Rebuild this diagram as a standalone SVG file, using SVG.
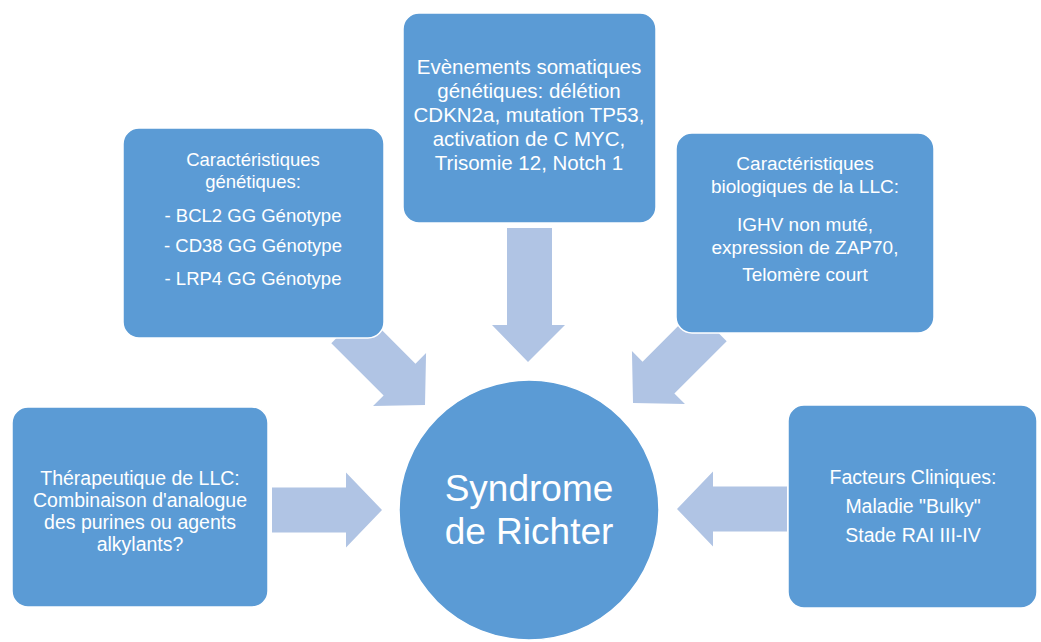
<svg xmlns="http://www.w3.org/2000/svg" width="1041" height="642" viewBox="0 0 1041 642">
  <defs>
    <style>
      .box { fill: #5b9bd5; stroke: #ffffff; stroke-width: 1.5; }
      .arrow { fill: #b0c4e4; }
      .t { fill: #ffffff; font-family: "Liberation Sans", Arial, sans-serif; font-size: 18.5px; text-anchor: middle; }
      .top { font-size: 20.5px; }
      .bio { font-size: 19px; }
      .low { font-size: 19.5px; }
      .big { font-size: 37px; }
    </style>
    <polygon id="arr" points="-110,-22.5 -36,-22.5 -36,-37.5 0,0 -36,37.5 -36,22.5 -110,22.5"/>
  </defs>
  <rect width="1041" height="642" fill="#ffffff"/>
  <g id="connectors">
    <use href="#arr" class="arrow" transform="translate(425,405) rotate(45)"/>
    <polygon class="arrow" points="507,228 552,228 552,325 565,325 528,362 492,325 507,325"/>
    <use href="#arr" class="arrow" transform="translate(633,403) rotate(135)"/>
    <use href="#arr" class="arrow" transform="translate(382,510)"/>
    <use href="#arr" class="arrow" transform="translate(677,509) rotate(180)"/>
  </g>
  <g id="node-genetiques">
    <rect class="box" x="123" y="128" width="261" height="210" rx="16"/>
    <text class="t" x="253" y="166">Caractéristiques</text>
    <text class="t" x="253" y="188">génétiques:</text>
    <text class="t" x="253" y="222">- BCL2 GG Génotype</text>
    <text class="t" x="253" y="252">- CD38 GG Génotype</text>
    <text class="t" x="253" y="285">- LRP4 GG Génotype</text>
  </g>
  <g id="node-somatiques">
    <rect class="box" x="403" y="13" width="253" height="210" rx="16"/>
    <text class="t top" x="529" y="74">Evènements somatiques</text>
    <text class="t top" x="529" y="98">génétiques: délétion</text>
    <text class="t top" x="529" y="122">CDKN2a, mutation TP53,</text>
    <text class="t top" x="529" y="146">activation de C MYC,</text>
    <text class="t top" x="529" y="170">Trisomie 12, Notch 1</text>
  </g>
  <g id="node-biologiques">
    <rect class="box" x="676" y="133" width="258" height="200" rx="16"/>
    <text class="t bio" x="805" y="170">Caractéristiques</text>
    <text class="t bio" x="805" y="193">biologiques de la LLC:</text>
    <text class="t bio" x="805" y="231">IGHV non muté,</text>
    <text class="t bio" x="805" y="254">expression de ZAP70,</text>
    <text class="t bio" x="805" y="281">Telomère court</text>
  </g>
  <g id="node-therapeutique">
    <rect class="box" x="12" y="407" width="256" height="200" rx="16"/>
    <text class="t low" x="140" y="485">Thérapeutique de LLC:</text>
    <text class="t low" x="140" y="507">Combinaison d'analogue</text>
    <text class="t low" x="140" y="529">des purines ou agents</text>
    <text class="t low" x="140" y="551">alkylants?</text>
  </g>
  <g id="node-cliniques">
    <rect class="box" x="788" y="405" width="249" height="203" rx="16"/>
    <text class="t low" x="913" y="484">Facteurs Cliniques:</text>
    <text class="t low" x="913" y="513">Maladie "Bulky"</text>
    <text class="t low" x="913" y="542">Stade RAI III-IV</text>
  </g>
  <g id="node-richter">
    <circle class="box" cx="529" cy="510" r="130"/>
    <text class="t big" x="529" y="501">Syndrome</text>
    <text class="t big" x="529" y="544">de Richter</text>
  </g>
</svg>
